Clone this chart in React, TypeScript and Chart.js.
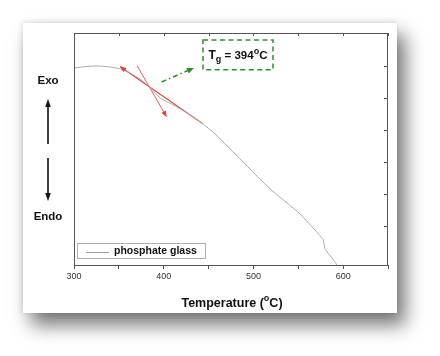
import React, { useEffect, useRef } from 'react';
import { Chart, registerables } from 'chart.js';

Chart.register(...registerables);

// Data (temperature in °C, heat flow in arbitrary units)
const temperature = [300.0, 312.3, 325.6, 340.1, 351.3, 362.4, 373.6, 384.7, 390.3, 395.9, 401.4, 409.2, 418.2, 429.3, 443.8, 457.2, 473.9, 490.6, 507.4, 521.8, 537.5, 551.9, 566.4, 577.6, 579.8, 582.0, 587.6, 593.2];
const heatFlow = [5.94, 5.98, 6.0, 5.97, 5.91, 5.78, 5.59, 5.34, 5.16, 5.0, 4.91, 4.81, 4.66, 4.47, 4.19, 3.88, 3.41, 2.94, 2.46, 2.08, 1.72, 1.38, 0.94, 0.58, 0.28, 0.19, 0.0, -0.22];

// Tangent construction lines
const tangentAx = [351.3, 443.8];
const tangentAy = [5.98, 4.19];
const tangentBx = [370.5, 403.2];
const tangentBy = [6.0, 4.41];

// Annotation pointer and label box (data coords)
const pointerX = [397.6, 433.7];
const pointerY = [5.5, 5.94];
const boxX = [443.8, 521.8];
const boxY = [6.81, 5.88];
const tgValue = '394';

const xTicksMajor = [300, 400, 500, 600];
const seriesLabel = 'phosphate glass';

const FONT = '"Liberation Sans", Arial, sans-serif';

function arrowHead(ctx: CanvasRenderingContext2D, fx: number, fy: number, tx: number, ty: number, len: number, w: number, color: string) {
  const a = Math.atan2(ty - fy, tx - fx);
  ctx.save();
  ctx.fillStyle = color;
  ctx.beginPath();
  ctx.moveTo(tx, ty);
  ctx.lineTo(tx - len * Math.cos(a) + w * Math.sin(a), ty - len * Math.sin(a) - w * Math.cos(a));
  ctx.lineTo(tx - len * Math.cos(a) - w * Math.sin(a), ty - len * Math.sin(a) + w * Math.cos(a));
  ctx.closePath();
  ctx.fill();
  ctx.restore();
}

type Seg = { t: string; size: number; dy: number };
function richText(ctx: CanvasRenderingContext2D, segs: Seg[], x: number, y: number, align: 'left' | 'center') {
  ctx.save();
  ctx.textBaseline = 'alphabetic';
  ctx.textAlign = 'left';
  let total = 0;
  for (const s of segs) {
    ctx.font = `bold ${s.size}px ${FONT}`;
    total += ctx.measureText(s.t).width;
  }
  let cx = align === 'center' ? x - total / 2 : x;
  for (const s of segs) {
    ctx.font = `bold ${s.size}px ${FONT}`;
    ctx.fillText(s.t, cx, y + s.dy);
    cx += ctx.measureText(s.t).width;
  }
  ctx.restore();
}

const decorPlugin = {
  id: 'decor',
  afterDatasetsDraw(chart: any) {
    const { ctx, chartArea: ca, scales } = chart;
    const xs = scales.x;
    const ys = scales.y;
    ctx.save();
    // frame
    ctx.strokeStyle = '#555';
    ctx.lineWidth = 1;
    ctx.strokeRect(ca.left + 0.5, ca.top + 0.5, ca.right - ca.left - 1, ca.bottom - ca.top);
    // top ticks (inward)
    for (const t of xs.ticks) {
      const px = Math.round(xs.getPixelForValue(t.value)) + 0.5;
      ctx.beginPath();
      ctx.moveTo(px, ca.top);
      ctx.lineTo(px, ca.top + 3);
      ctx.stroke();
    }
    // right ticks (inward)
    for (const t of ys.ticks) {
      if (!Number.isInteger(t.value) || t.value < 0 || t.value > 6.5) continue;
      const py = Math.round(ys.getPixelForValue(t.value)) + 0.5;
      ctx.beginPath();
      ctx.moveTo(ca.right, py);
      ctx.lineTo(ca.right - 4, py);
      ctx.stroke();
    }

    // arrowheads on tangents
    const red = '#e53935';
    arrowHead(ctx, xs.getPixelForValue(tangentAx[1]), ys.getPixelForValue(tangentAy[1]), xs.getPixelForValue(tangentAx[0]), ys.getPixelForValue(tangentAy[0]), 6, 2.5, red);
    arrowHead(ctx, xs.getPixelForValue(tangentBx[0]), ys.getPixelForValue(tangentBy[0]), xs.getPixelForValue(tangentBx[1]), ys.getPixelForValue(tangentBy[1]), 6, 2.5, red);

    // green pointer
    const green = '#2f8f2f';
    const p0x = xs.getPixelForValue(pointerX[0]);
    const p0y = ys.getPixelForValue(pointerY[0]);
    const p1x = xs.getPixelForValue(pointerX[1]);
    const p1y = ys.getPixelForValue(pointerY[1]);
    const ang = Math.atan2(p1y - p0y, p1x - p0x);
    ctx.strokeStyle = green;
    ctx.lineWidth = 1.5;
    ctx.setLineDash([5, 3, 1.5, 3]);
    ctx.beginPath();
    ctx.moveTo(p0x, p0y);
    ctx.lineTo(p1x - 4 * Math.cos(ang), p1y - 4 * Math.sin(ang));
    ctx.stroke();
    ctx.setLineDash([]);
    arrowHead(ctx, p0x, p0y, p1x, p1y, 7, 3, green);

    // dashed label box
    const bx0 = xs.getPixelForValue(boxX[0]);
    const bx1 = xs.getPixelForValue(boxX[1]);
    const by0 = ys.getPixelForValue(boxY[0]);
    const by1 = ys.getPixelForValue(boxY[1]);
    ctx.fillStyle = '#fff';
    ctx.fillRect(bx0, by0, bx1 - bx0, by1 - by0);
    ctx.strokeStyle = green;
    ctx.lineWidth = 1.5;
    ctx.setLineDash([5, 3.5]);
    ctx.strokeRect(bx0, by0, bx1 - bx0, by1 - by0);
    ctx.setLineDash([]);
    ctx.fillStyle = '#111';
    richText(ctx, [
      { t: 'T', size: 12, dy: 0 },
      { t: 'g', size: 9, dy: 3 },
      { t: ' = ' + tgValue, size: 11.5, dy: 0 },
      { t: 'o', size: 9, dy: -5 },
      { t: 'C', size: 11.5, dy: 0 },
    ], (bx0 + bx1) / 2, (by0 + by1) / 2 + 4, 'center');

    // legend
    const lx = ca.left + 3;
    const ly = ca.bottom - 22;
    ctx.fillStyle = '#fff';
    ctx.fillRect(lx, ly, 128, 15);
    ctx.strokeStyle = '#b0b0b0';
    ctx.lineWidth = 1;
    ctx.strokeRect(lx + 0.5, ly + 0.5, 128, 15);
    ctx.strokeStyle = '#a0a0a0';
    ctx.beginPath();
    ctx.moveTo(lx + 9, ly + 9.5);
    ctx.lineTo(lx + 32, ly + 9.5);
    ctx.stroke();
    ctx.fillStyle = '#111';
    ctx.font = `bold 10.5px ${FONT}`;
    ctx.textAlign = 'left';
    ctx.textBaseline = 'middle';
    ctx.fillText(seriesLabel, lx + 37, ly + 8.5);

    // axis title
    ctx.fillStyle = '#111';
    richText(ctx, [
      { t: 'Temperature (', size: 12.5, dy: 0 },
      { t: 'o', size: 9, dy: -6 },
      { t: 'C)', size: 12.5, dy: 0 },
    ], (ca.left + ca.right) / 2 + 1, ca.bottom + 42, 'center');

    // Exo / Endo side labels
    const sx = ca.left - 26;
    ctx.font = `bold 11.5px ${FONT}`;
    ctx.textAlign = 'center';
    ctx.textBaseline = 'middle';
    ctx.fillText('Exo', sx, 81);
    ctx.fillText('Endo', sx, 217);
    ctx.strokeStyle = '#111';
    ctx.lineWidth = 1.6;
    ctx.beginPath();
    ctx.moveTo(sx, 144);
    ctx.lineTo(sx, 106);
    ctx.moveTo(sx, 158);
    ctx.lineTo(sx, 194);
    ctx.stroke();
    arrowHead(ctx, sx, 144, sx, 99, 8, 2.8, '#111');
    arrowHead(ctx, sx, 158, sx, 201, 8, 2.8, '#111');
    ctx.restore();
  },
};

export default function App() {
  const ref = useRef<HTMLCanvasElement | null>(null);
  useEffect(() => {
    if (!ref.current) return;
    const chart = new Chart(ref.current, {
      type: 'line',
      data: {
        datasets: [
          {
            label: seriesLabel,
            data: temperature.map((t, i) => ({ x: t, y: heatFlow[i] })),
            borderColor: '#a8a8a8',
            borderWidth: 1,
            pointRadius: 0,
            tension: 0.1,
          },
          {
            label: 'tangent A',
            data: tangentAx.map((t, i) => ({ x: t, y: tangentAy[i] })),
            borderColor: '#e53935',
            borderWidth: 1.2,
            pointRadius: 0,
          },
          {
            label: 'tangent B',
            data: tangentBx.map((t, i) => ({ x: t, y: tangentBy[i] })),
            borderColor: '#ec5a5a',
            borderWidth: 1,
            pointRadius: 0,
          },
        ],
      },
      options: {
        animation: false,
        responsive: false,
        layout: { padding: { left: 74, top: 33, right: 52, bottom: 0 } },
        plugins: { legend: { display: false }, tooltip: { enabled: false } },
        scales: {
          x: {
            type: 'linear',
            position: 'bottom',
            min: 300,
            max: 650,
            afterFit: (s: any) => { s.height = 91; },
            ticks: {
              stepSize: 50,
              autoSkip: false,
              maxRotation: 0,
              padding: 2,
              color: '#333',
              font: { family: FONT, size: 9 },
              callback: (v: any) => (xTicksMajor.includes(Number(v)) ? String(v) : ''),
            },
            grid: { drawOnChartArea: false, tickLength: 4, color: '#555' },
            border: { color: '#555' },
          },
          y: {
            type: 'linear',
            min: -0.22,
            max: 7.03,
            display: false,
            ticks: { stepSize: 1 },
          },
        },
      },
      plugins: [decorPlugin],
    });
    return () => chart.destroy();
  }, []);

  return (
    <div style={{ position: 'fixed', left: 0, top: 0, width: 440, height: 356, background: '#fff', overflow: 'hidden' }}>
      <div
        style={{
          position: 'absolute',
          left: 23,
          top: 23,
          width: 374,
          height: 290,
          background: '#fff',
          boxShadow: '8px 12px 18px rgba(0,0,0,0.55), -1px -1px 5px rgba(0,0,0,0.12)',
        }}
      />
      <canvas ref={ref} width={440} height={356} style={{ position: 'absolute', left: 0, top: 0 }} />
    </div>
  );
}
